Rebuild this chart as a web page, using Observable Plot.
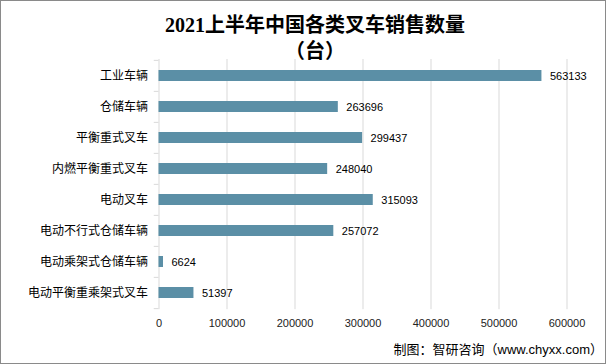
<!DOCTYPE html>
<html>
<head>
<meta charset="utf-8">
<script src="https://cdn.jsdelivr.net/npm/d3@7"></script>
<script src="https://cdn.jsdelivr.net/npm/@observablehq/plot@0.6"></script>
<style>
  html, body { margin: 0; padding: 0; background: #fff; }
  #frame {
    position: relative; width: 604px; height: 362px;
    border: 1px solid #8a8a8a; background: #fff; overflow: hidden;
    font-family: "Liberation Sans", "Noto Sans CJK SC", sans-serif;
  }
  #title {
    position: absolute; top: 11px; left: 314px; transform: translateX(-50%);
    white-space: nowrap; text-align: center;
    font-family: "Liberation Serif", "Noto Sans CJK SC", serif;
    font-weight: bold; font-size: 20px; line-height: 26px; color: #000;
  }
  #caption {
    position: absolute; right: 2px; top: 341px;
    font-size: 13px; line-height: 16px; color: #000; white-space: nowrap;
  }
  #chart { position: absolute; left: 0; top: 0; }
</style>
</head>
<body>
<div id="frame">
  <div id="chart"></div>
  <div id="title">2021上半年中国各类叉车销售数量<br>（台）</div>
  <div id="caption">制图：智研咨询（www.chyxx.com）</div>
</div>
<script>
const categories = ["工业车辆","仓储车辆","平衡重式叉车","内燃平衡重式叉车","电动叉车","电动不行式仓储车辆","电动乘架式仓储车辆","电动平衡重乘架式叉车"];
const values = [563133, 263696, 299437, 248040, 315093, 257072, 6624, 51397];
const xTicks = [0, 100000, 200000, 300000, 400000, 500000, 600000];

const data = categories.map((c, i) => ({name: c, value: values[i]}));

const W = 604, H = 362;
const mTop = 58, mBottom = 53.8, mLeft = 157.5, mRight = 38.5;
const step = (H - mTop - mBottom) / categories.length;
const boundaries = categories.map((c, i) => ({name: c, dy: -step / 2}))
  .concat([{name: categories[categories.length - 1], dy: step / 2}]);

const chart = Plot.plot({
  width: W, height: H,
  marginTop: mTop, marginBottom: mBottom, marginLeft: mLeft, marginRight: mRight,
  style: {fontFamily: '"Liberation Sans", "Noto Sans CJK SC", sans-serif', background: "transparent"},
  x: {domain: [0, 600000], ticks: xTicks},
  y: {domain: categories, paddingInner: 0.66, paddingOuter: 0.33},
  marks: [
    Plot.gridX(xTicks, {stroke: "#d9d9d9", strokeOpacity: 1}),
    Plot.ruleY(boundaries.filter(d => d.dy < 0), {y: "name", x1: -7000, x2: 0, dy: -step / 2, stroke: "#d9d9d9"}),
    Plot.ruleY(boundaries.filter(d => d.dy > 0), {y: "name", x1: -7000, x2: 0, dy: step / 2, stroke: "#d9d9d9"}),
    Plot.barX(data, {y: "name", x: "value", fill: "#5b8fa6"}),
    Plot.text(data, {y: "name", x: "value", text: d => String(d.value), dx: 8, textAnchor: "start", fontSize: 11, fill: "#000"}),
    Plot.axisX({ticks: xTicks, tickSize: 0, tickPadding: 9, fontSize: 11, tickFormat: d => String(d), color: "#222", label: null}),
    Plot.axisY({tickSize: 0, tickPadding: 11, fontSize: 12, color: "#000", label: null})
  ]
});
document.getElementById("chart").appendChild(chart);
</script>
</body>
</html>
